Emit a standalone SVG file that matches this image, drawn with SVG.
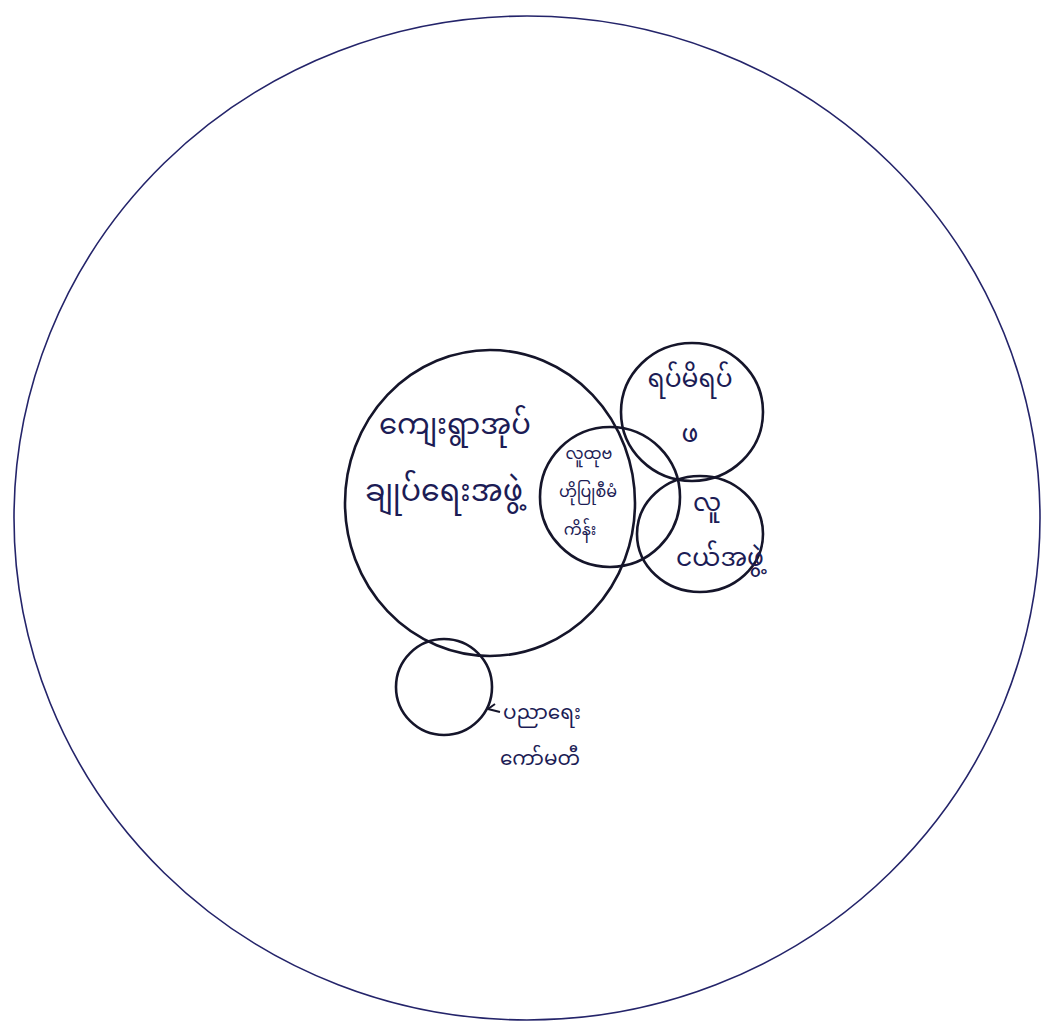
<svg xmlns="http://www.w3.org/2000/svg" width="1055" height="1025" viewBox="0 0 1055 1025">
<style>
.c{fill:none;stroke:#15152a;stroke-width:2.6}
.o{fill:none;stroke:#24246a;stroke-width:1.6}
text{font-family:"Noto Sans Myanmar","Padauk","Myanmar Text","Noto Sans",sans-serif;fill:#1c1c55}
</style>
<rect width="1055" height="1025" fill="#ffffff"/>
<g id="outer"><ellipse class="o" cx="527" cy="518" rx="513" ry="502"/></g>
<g id="village-admin" text-anchor="middle">
<ellipse class="c" cx="490" cy="503" rx="145" ry="153"/>
<text x="455" y="434" font-size="29">ကျေးရွာအုပ်</text>
<text x="444" y="501" font-size="30">ချုပ်ရေးအဖွဲ့</text>
</g>
<g id="cdd" text-anchor="middle">
<circle class="c" cx="610" cy="497" r="70"/>
<text x="589" y="459" font-size="16">လူထုဗ</text>
<text x="588" y="497" font-size="16">ဟိုပြုစီမံ</text>
<text x="580" y="535" font-size="16">ကိန်း</text>
</g>
<g id="elders" text-anchor="middle">
<ellipse class="c" cx="692" cy="412" rx="71" ry="69"/>
<text x="690" y="387" font-size="25">ရပ်မိရပ်</text>
<text x="690" y="442" font-size="25">ဖ</text>
</g>
<g id="youth" text-anchor="middle">
<ellipse class="c" cx="700" cy="534" rx="63" ry="58"/>
<text x="707" y="511" font-size="25">လူ</text>
<text x="720" y="566" font-size="25">ငယ်အဖွဲ့</text>
</g>
<g id="education">
<circle class="c" cx="444" cy="687" r="48"/>
<text x="503" y="719" font-size="20">ပညာရေး</text>
<text x="500" y="765" font-size="20">ကော်မတီ</text>
</g>
<g id="connectors">
<path d="M500 712 L488 709 L495 704" fill="none" stroke="#15152a" stroke-width="2"/>
</g>
</svg>
